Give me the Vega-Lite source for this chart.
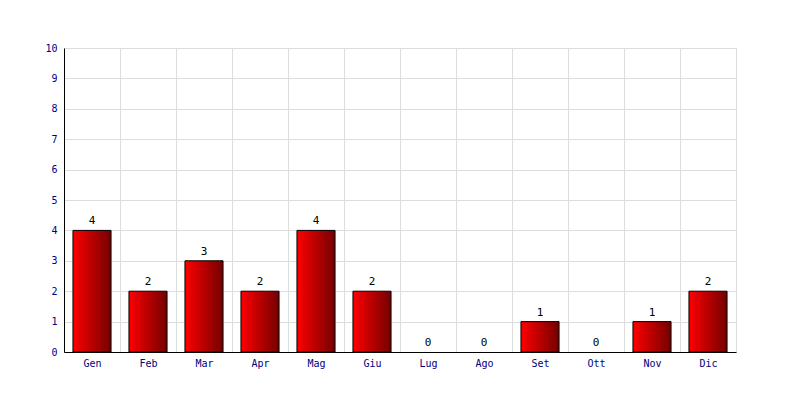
{
  "$schema": "https://vega.github.io/schema/vega-lite/v6.json",
  "width": 672,
  "height": 304,
  "autosize": {"type": "none"},
  "padding": {"left": 64, "top": 48, "right": 64, "bottom": 48},
  "background": "white",
  "config": {
    "view": {"stroke": null},
    "font": "DejaVu Sans Mono",
    "axis": {"labelFont": "DejaVu Sans Mono", "labelFontSize": 10, "labelColor": "#000080", "gridColor": "#dddddd", "gridOpacity": 1, "ticks": false, "domainColor": "#000000", "title": null, "labelOverlap": false}
  },
  "data": {
    "values": [
      {"mese": "Gen", "n": 4}, {"mese": "Feb", "n": 2}, {"mese": "Mar", "n": 3},
      {"mese": "Apr", "n": 2}, {"mese": "Mag", "n": 4}, {"mese": "Giu", "n": 2},
      {"mese": "Lug", "n": 0}, {"mese": "Ago", "n": 0}, {"mese": "Set", "n": 1},
      {"mese": "Ott", "n": 0}, {"mese": "Nov", "n": 1}, {"mese": "Dic", "n": 2}
    ]
  },
  "encoding": {
    "x": {
      "field": "mese", "type": "nominal",
      "sort": ["Gen", "Feb", "Mar", "Apr", "Mag", "Giu", "Lug", "Ago", "Set", "Ott", "Nov", "Dic"],
      "scale": {"paddingInner": 0, "paddingOuter": 0},
      "axis": {"labelAngle": 0, "grid": true, "tickBand": "extent", "labelPadding": 6}
    },
    "y": {
      "field": "n", "type": "quantitative",
      "scale": {"domain": [0, 10], "nice": false},
      "axis": {"values": [0,1,2,3,4,5,6,7,8,9,10], "grid": true, "labelPadding": 7}
    }
  },
  "layer": [
    {
      "transform": [{"filter": "datum.n > 0"}],
      "mark": {
        "type": "bar",
        "width": {"band": 0.68},
        "stroke": "#000000",
        "strokeWidth": 1,
        "color": {
          "gradient": "linear", "x1": 0, "x2": 1, "y1": 0, "y2": 0,
          "stops": [{"offset": 0, "color": "#ff0000"}, {"offset": 1, "color": "#740000"}]
        }
      }
    },
    {
      "mark": {"type": "text", "dy": -9, "color": "#000000", "fontSize": 11, "font": "DejaVu Sans Mono"},
      "encoding": {"text": {"field": "n", "type": "quantitative"}}
    }
  ]
}
